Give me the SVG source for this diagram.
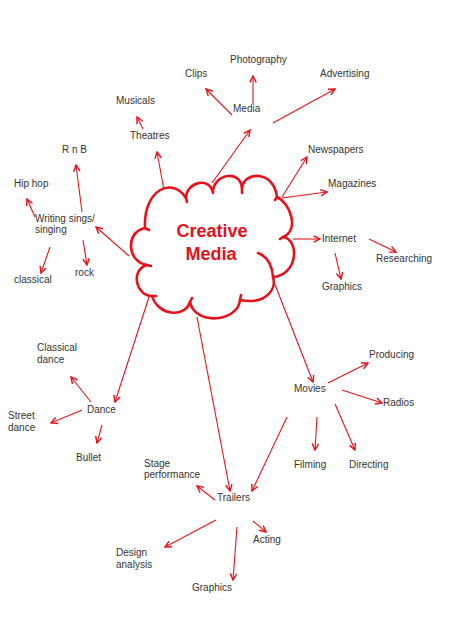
<svg xmlns="http://www.w3.org/2000/svg" width="452" height="640" viewBox="0 0 452 640">
<defs>
<marker id="ah" viewBox="0 0 10 10" refX="9" refY="5" markerWidth="8" markerHeight="8" markerUnits="userSpaceOnUse" orient="auto">
<path d="M1,1 L9,5 L1,9" fill="none" stroke="#e3141c" stroke-width="1.8"/>
</marker>
</defs>
<style>
text{font-family:"Liberation Sans",Arial,sans-serif;font-size:10px;fill:#333}
.c{stroke:#e3141c;stroke-width:1.1;fill:none;marker-end:url(#ah)}
.p{stroke:#e3141c;stroke-width:1.1;fill:none}
.cloud{stroke:#e8101a;stroke-width:2.6;fill:#fff;stroke-linejoin:round;stroke-linecap:round}
.title{font-size:18px;font-weight:bold;fill:#e8101a;text-anchor:middle}
</style>
<rect width="452" height="640" fill="#fff"/>
<g id="connectors">
<line class="c" x1="212" y1="183" x2="250" y2="130"/>
<line class="c" x1="253" y1="104" x2="253" y2="76"/>
<line class="c" x1="232" y1="115" x2="206" y2="89"/>
<line class="c" x1="273" y1="123" x2="335" y2="89"/>
<line class="c" x1="164" y1="190" x2="157" y2="152"/>
<line class="c" x1="143" y1="129" x2="137" y2="117"/>
<line class="c" x1="282" y1="197" x2="307" y2="157"/>
<line class="c" x1="282" y1="198" x2="327" y2="192"/>
<line class="c" x1="293" y1="239" x2="320" y2="239"/>
<line class="c" x1="369" y1="239" x2="396" y2="252"/>
<line class="c" x1="335" y1="253" x2="341" y2="279"/>
<line class="c" x1="129" y1="256" x2="96" y2="227"/>
<line class="c" x1="82" y1="212" x2="76" y2="165"/>
<line class="c" x1="35" y1="217" x2="27" y2="199"/>
<line class="c" x1="50" y1="247" x2="41" y2="273"/>
<line class="c" x1="83" y1="240" x2="87" y2="265"/>
<line class="c" x1="149" y1="297" x2="115" y2="402"/>
<line class="c" x1="91" y1="402" x2="71" y2="377"/>
<line class="c" x1="82" y1="410" x2="51" y2="423"/>
<line class="c" x1="102" y1="425" x2="97" y2="443"/>
<line class="c" x1="274" y1="282" x2="313" y2="382"/>
<line class="c" x1="328" y1="383" x2="368" y2="363"/>
<line class="c" x1="342" y1="390" x2="382" y2="403"/>
<line class="c" x1="317" y1="417" x2="315" y2="450"/>
<line class="c" x1="335" y1="404" x2="355" y2="450"/>
<line class="c" x1="287" y1="417" x2="252" y2="491"/>
<line class="c" x1="197" y1="317" x2="230" y2="491"/>
<line class="c" x1="215" y1="500" x2="197" y2="486"/>
<line class="c" x1="216" y1="520" x2="165" y2="547"/>
<line class="c" x1="237" y1="527" x2="233" y2="580"/>
<line class="c" x1="253" y1="521" x2="266" y2="532"/>
</g>
<g id="cloud">
<path class="cloud" d="M145,228 C143,190 172,176 186,198 C186,182 210,176 213,193 C212,175 240,168 242,188 C244,171 274,170 277,197 C290,203 300,230 283,237 C300,240 298,275 273,277 C277,290 265,305 240,300 C238,322 195,326 190,302 C185,318 158,316 152,296 C136,296 130,270 147,265 C127,262 125,232 145,228 Z"/>
<path class="cloud" fill="none" d="M186,198 l1,4 M242,188 l0,5 M277,197 l-2,3 M283,237 l-3,2 M240,300 l1,-5 M190,302 l2,-4 M152,296 l4,0 M147,265 l4,1 M145,228 l4,2 M258,253 C266,256 272,264 273,277"/>
<text class="title" x="212" y="237">Creative</text>
<text class="title" x="211" y="260">Media</text>
</g>
<g id="n-media"><text x="233" y="112">Media</text></g>
<g id="n-photography"><text x="230" y="63">Photography</text></g>
<g id="n-clips"><text x="185" y="77">Clips</text></g>
<g id="n-advertising"><text x="320" y="77">Advertising</text></g>
<g id="n-musicals"><text x="116" y="104">Musicals</text></g>
<g id="n-theatres"><text x="130" y="139">Theatres</text></g>
<g id="n-newspapers"><text x="308" y="153">Newspapers</text></g>
<g id="n-magazines"><text x="328" y="187">Magazines</text></g>
<g id="n-internet"><text x="322" y="242">Internet</text></g>
<g id="n-researching"><text x="376" y="262">Researching</text></g>
<g id="n-graphics1"><text x="322" y="290">Graphics</text></g>
<g id="n-rnb"><text x="62" y="153">R n B</text></g>
<g id="n-hiphop"><text x="14" y="187">Hip hop</text></g>
<g id="n-writing"><text x="35" y="222">Writing sings/</text><text x="35" y="233">singing</text></g>
<g id="n-classical"><text x="14" y="283">classical</text></g>
<g id="n-rock"><text x="75" y="276">rock</text></g>
<g id="n-classicaldance"><text x="37" y="351">Classical</text><text x="37" y="363">dance</text></g>
<g id="n-dance"><text x="87" y="413">Dance</text></g>
<g id="n-streetdance"><text x="8" y="419">Street</text><text x="8" y="431">dance</text></g>
<g id="n-bullet"><text x="76" y="461">Bullet</text></g>
<g id="n-movies"><text x="294" y="392">Movies</text></g>
<g id="n-producing"><text x="369" y="358">Producing</text></g>
<g id="n-radios"><text x="383" y="406">Radios</text></g>
<g id="n-filming"><text x="294" y="468">Filming</text></g>
<g id="n-directing"><text x="349" y="468">Directing</text></g>
<g id="n-trailers"><text x="217" y="501">Trailers</text></g>
<g id="n-stage"><text x="144" y="467">Stage</text><text x="144" y="478">performance</text></g>
<g id="n-acting"><text x="253" y="543">Acting</text></g>
<g id="n-design"><text x="116" y="556">Design</text><text x="116" y="568">analysis</text></g>
<g id="n-graphics2"><text x="192" y="591">Graphics</text></g>
</svg>
